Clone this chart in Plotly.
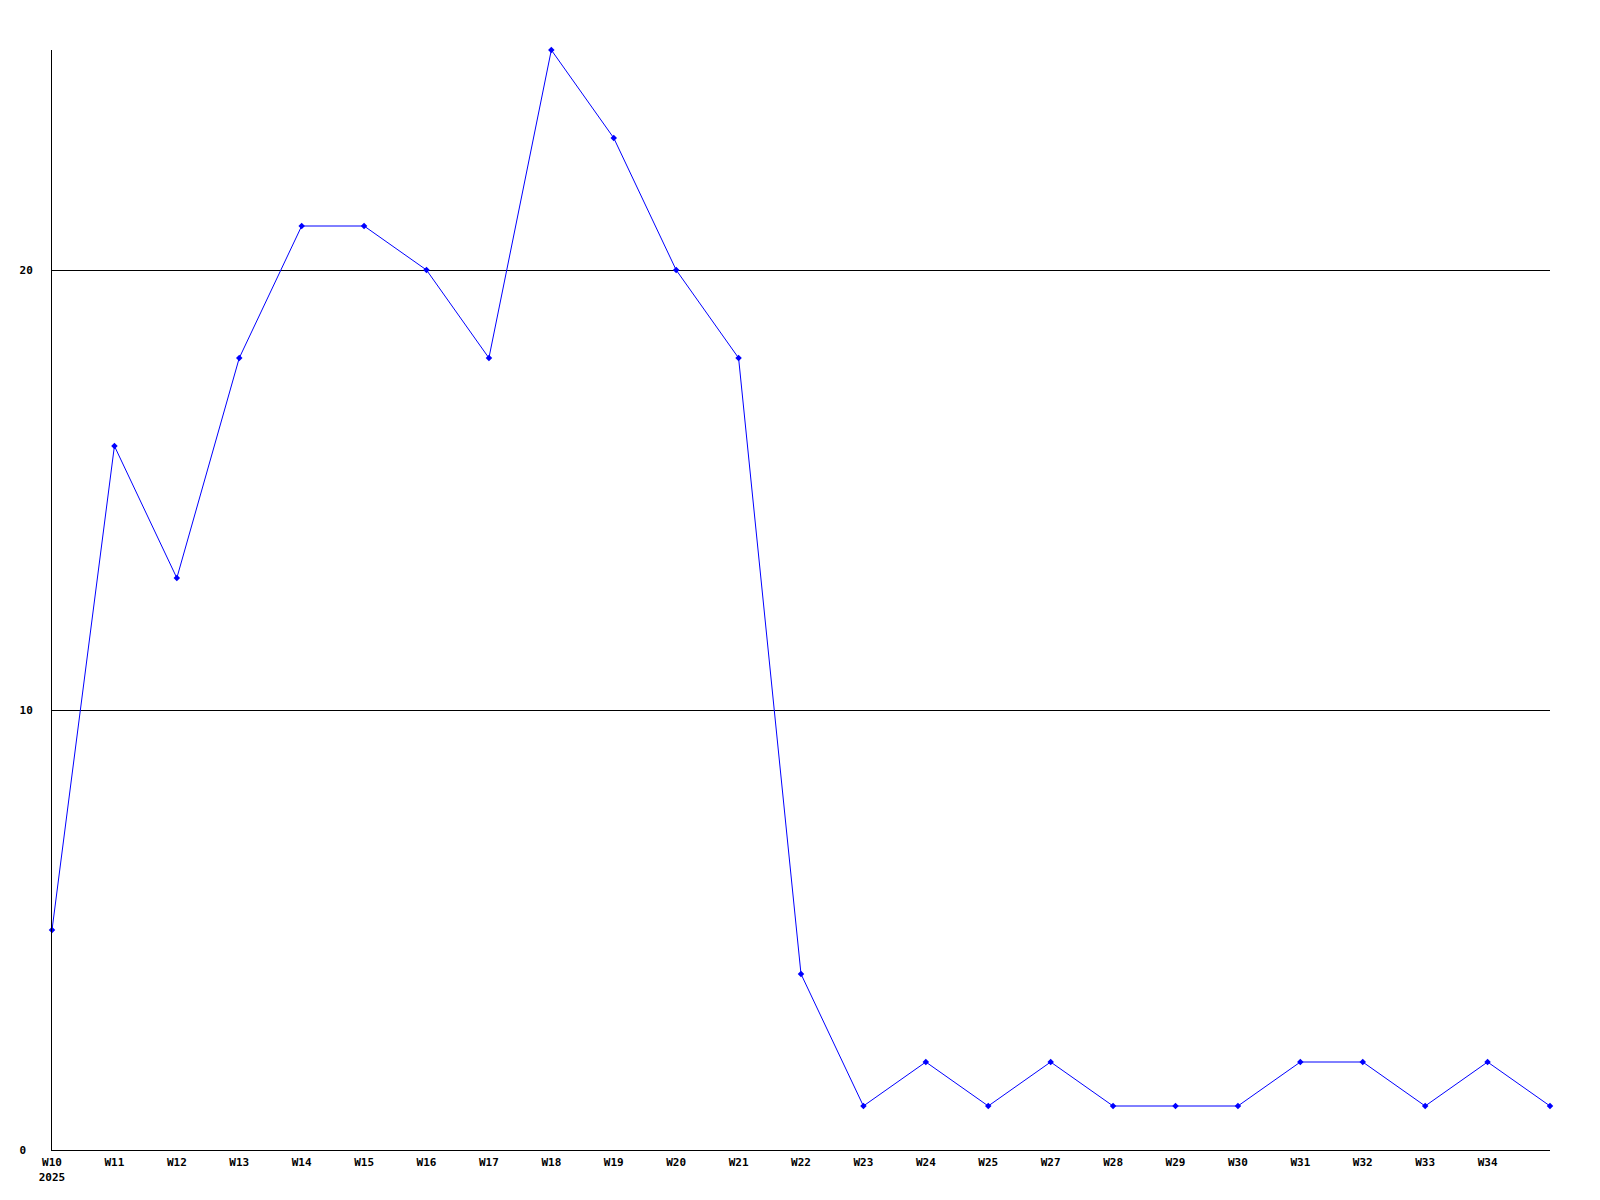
import plotly.graph_objects as go

weeks = ["W10", "W11", "W12", "W13", "W14", "W15", "W16", "W17", "W18", "W19",
         "W20", "W21", "W22", "W23", "W24", "W25", "W27", "W28", "W29", "W30",
         "W31", "W32", "W33", "W34", ""]
values = [5, 16, 13, 18, 21, 21, 20, 18, 25, 23, 20, 18, 4, 1, 2, 1, 2, 1, 1, 1, 2, 2, 1, 2, 1]
year_label = "2025"
y_ticks = [0, 10, 20]

x = list(range(len(values)))
ticktext = [w if i > 0 else f"{w}<br>{year_label}" for i, w in enumerate(weeks)]

fig = go.Figure()
fig.add_trace(go.Scatter(
    x=x, y=values, mode="lines+markers",
    line=dict(color="#0000ff", width=1),
    marker=dict(symbol="diamond", size=5, color="#0000ff"),
    cliponaxis=False, hoverinfo="skip",
))

font = dict(family="DejaVu Sans Mono", size=11, color="black", weight="bold")

fig.update_layout(
    width=1600, height=1200,
    margin=dict(l=42, r=58, t=42, b=58),
    paper_bgcolor="white", plot_bgcolor="white",
    showlegend=False,
    xaxis=dict(
        range=[0, len(values) - 1],
        tickmode="array", tickvals=x[:-1], ticktext=ticktext[:-1],
        showgrid=False, zeroline=False,
        showline=True, linecolor="black", linewidth=1,
        ticks="", tickfont=font, ticklabelstandoff=2,
    ),
    yaxis=dict(
        range=[0, 25],
        tickmode="array", tickvals=y_ticks,
        ticktext=[str(v) + "\u00a0" * (2 - len(str(v))) for v in y_ticks],
        showgrid=True, gridcolor="black", gridwidth=1,
        zeroline=False,
        showline=True, linecolor="black", linewidth=1,
        ticks="", tickfont=font, ticklabelstandoff=16,
    ),
)

fig.write_html("out.html")
